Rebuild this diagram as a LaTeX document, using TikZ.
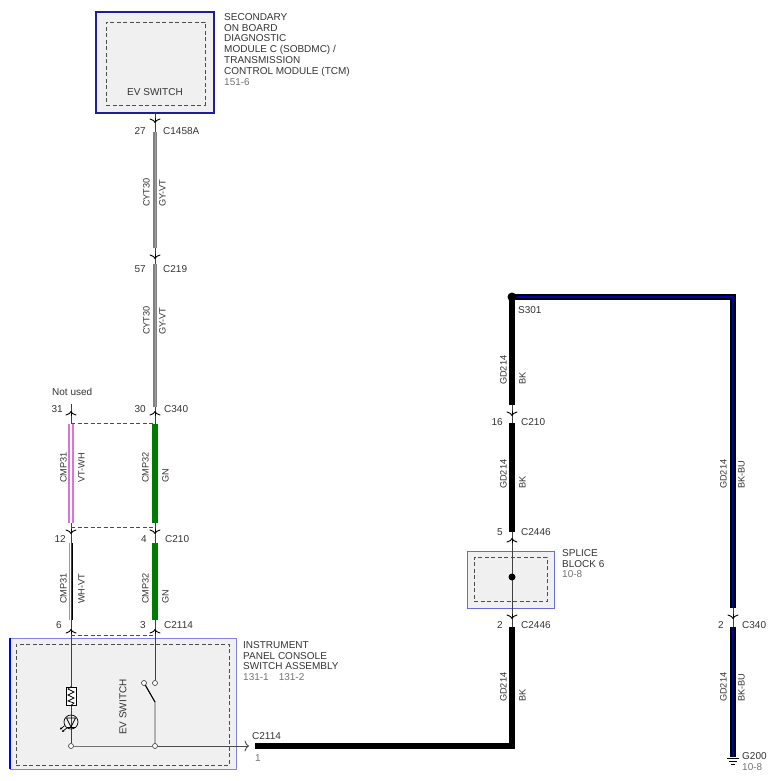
\documentclass[tikz,border=0pt]{standalone}
\usepackage{fontspec}
\setmainfont{Liberation Sans}
\usetikzlibrary{arrows.meta}
\definecolor{azulosc}{RGB}{30,30,150}
\definecolor{azulclaro}{RGB}{130,130,225}
\definecolor{azulbloque}{RGB}{105,105,215}
\definecolor{fondo}{RGB}{240,240,240}
\definecolor{verde}{RGB}{0,125,0}
\definecolor{violeta}{RGB}{220,115,220}
\begin{document}
\begin{tikzpicture}[x=1pt,y=-1pt,
  txt/.style={font=\fontsize{10}{10.9}\selectfont, text=black!80, inner sep=0pt},
  ref/.style={txt, text=black!55},
  rotI/.style={txt, font=\fontsize{9.2}{10}\selectfont, rotate=90, anchor=south west},
  rotD/.style={txt, font=\fontsize{9.2}{10}\selectfont, rotate=90, anchor=north west},
  marco/.style={draw=black!70, line width=0.7pt, dash pattern=on 4pt off 2.5pt, inner sep=0pt},
  hilo/.style={draw=black!75, line width=0.7pt},
  cnx/.style={draw=black, line width=0.9pt, -{To[length=4.5pt,width=11pt]}},
  gyvt/.style={draw=black!50, double=violeta, line width=1.6pt, double distance=1pt},
  vtwh/.style={draw=violeta, double=white, line width=1.9pt, double distance=1.3pt},
  gn/.style={draw=verde, line width=5.5pt},
  bk/.style={draw=black, line width=5.5pt},
  bkbu/.style={draw=black, double=blue!70!black, line width=2.3pt, double distance=1.2pt},
  punto/.style={circle, draw=black!80, fill=white, inner sep=0pt, minimum size=5pt, line width=0.6pt}
]
\useasboundingbox (0,0) rectangle (779,781);

% Modulos y bloque de empalme
\node[fill=fondo, draw=azulosc, line width=1.3pt, minimum width=118pt, minimum height=101pt] (sobdmc) at (155,62.5) {};
\node[marco, minimum width=99pt, minimum height=83pt] (sobdmcin) at (155.5,63.5) {};
\node[fill=fondo, draw=azulclaro, line width=0.8pt, minimum width=226pt, minimum height=131pt] (ipc) at (123,703.5) {};
\draw[blue, line width=2pt] (ipc.north west) -- (ipc.south west);
\node[marco, minimum width=213pt, minimum height=121pt] (ipcin) at (122.5,704.5) {};
\node[fill=fondo, draw=azulbloque, line width=0.8pt, minimum width=87pt, minimum height=57pt] (sb6) at (510.5,579.5) {};
\node[marco, minimum width=73pt, minimum height=44pt] (sb6in) at (510.5,579) {};

% Puntos de la columna izquierda
\coordinate (m1) at (155,113);
\coordinate (c1458a) at (155,123);
\coordinate (w1a) at (155,132); \coordinate (w1b) at (155,248);
\coordinate (c219) at (155,259);
\coordinate (w2a) at (155,264); \coordinate (w2b) at (155,407);
\coordinate (c340) at (155,411);
\coordinate (w3a) at (155,424); \coordinate (w3b) at (155,523);
\coordinate (c210) at (155,534);
\coordinate (w4a) at (155,543); \coordinate (w4b) at (155,620);
\coordinate (c2114) at (155,629);
\coordinate (t31) at (71,404);
\coordinate (c340b) at (71,411);
\coordinate (v1a) at (71,424); \coordinate (v1b) at (71,523);
\coordinate (c210b) at (71,534);
\coordinate (v2a) at (71,543); \coordinate (v2b) at (71,620);
\coordinate (c2114c) at (71,629);

% Puntos de la derecha
\coordinate (g1b) at (512,405);
\coordinate (c210r) at (512,416);
\coordinate (g2a) at (512,423); \coordinate (g2b) at (512,532);
\coordinate (c2446a) at (512,538);
\coordinate (c2446b) at (512,619);
\coordinate (g3a) at (512,627);
\coordinate (esq) at (512,746);
\coordinate (g3b) at (255,746);
\coordinate (c2114r) at (249,746);
\coordinate (esqD) at (733,297);
\coordinate (h1b) at (733,608);
\coordinate (c340r) at (733,619);
\coordinate (h2a) at (733,627);
\coordinate (gnd) at (733,757);

% Hilos finos de fondo
\node[punto] (sw1) at (155,683) {};
\node[punto] (sw2) at (144,683) {};
\node[punto] (nA) at (71,746) {};
\node[punto] (nB) at (155,746) {};
\draw[hilo] (m1) -- (sw1);
\draw[hilo] (t31) -- (nA);
\draw[hilo] (sw2) ++(1.5,2) -- (155,702) -- (nB);
\draw[hilo, draw=black!55] (nA) -- (nB);
\draw[cnx, draw=black!70] (nB) -- (c2114r);
\draw[hilo] (512,297) -- (g3a);
\draw[hilo] (h1b) -- (gnd);

% Carcasas de conectores
\draw[marco] (71,423) -- (155,423);
\draw[marco] (71,527) -- (155,527);
\draw[marco] (71,635) -- (155,635);

% Cables
\draw[gyvt] (w1a) -- (w1b);
\draw[gyvt] (w2a) -- (w2b);
\draw[gn] (w3a) -- (w3b);
\draw[gn] (w4a) -- (w4b);
\draw[vtwh] (v1a) -- (v1b);
\draw[hilo, draw=violeta] ([xshift=-2pt]v2a) -- ([xshift=-2pt]v2b);
\draw[hilo, draw=black] ([xshift=1pt]v2a) -- ([xshift=1pt]v2b);
\draw[bk] (512,297) -- (g1b);
\draw[bk] (g2a) -- (g2b);
\draw[bk, line join=miter] (g3a) -- (esq) -- (g3b);
\draw[bkbu, line join=miter] (512,297) -- (esqD) -- (h1b);
\draw[bkbu] (h2a) -- (gnd);

% Simbolos de conector
\foreach \c in {c1458a,c219,c210,c210b,c210r,c2446b,c340r}
  \draw[cnx] (\c) ++(0,-5) -- (\c);
\foreach \c in {c340,c340b,c2114,c2114c,c2446a}
  \draw[cnx] (\c) ++(0,5) -- (\c);

% Empalmes y masa
\node[circle, fill=black, inner sep=0pt, minimum size=9pt] (s301) at (512,297) {};
\node[circle, fill=black, inner sep=0pt, minimum size=7pt] (spl) at (512,577) {};
\draw[hilo, draw=black] (gnd) ++(-6,1.5) -- ++(12,0);
\draw[hilo, draw=black] (gnd) ++(-4,4.5) -- ++(8,0);
\draw[hilo, draw=black] (gnd) ++(-2,7.5) -- ++(4,0);

% Interruptor, resistencia y LED
\draw[hilo, draw=black, line width=1pt] (sw2) -- (155,702);
\node[draw=black, fill=white, line width=0.7pt, minimum width=10pt, minimum height=18pt, inner sep=0pt] (res) at (71,696) {};
\draw[hilo, draw=black] (res.north) -- (68,689) -- (74,692) -- (68,695) -- (74,698) -- (68,701) -- (74,703) -- (res.south);
\node[circle, draw=black, line width=0.7pt, minimum size=14pt, inner sep=0pt] (led) at (71,722) {};
\draw[hilo, draw=black] (66.5,718) -- (75.5,718) -- (71,727) -- cycle;
\draw[hilo, draw=black] (66.5,727) -- (75.5,727);
\draw[hilo, draw=black, -{Latex[length=2.5pt,width=2.5pt]}] (led.210) -- ++(-5,4);
\draw[hilo, draw=black, -{Latex[length=2.5pt,width=2.5pt]}] (led.235) -- ++(-5,4);

% Textos de los modulos
\node[txt] (evs1) at (155,92) {EV SWITCH};
\node[txt, anchor=north west, align=left] (tcm) at (224,13) {SECONDARY\\ON BOARD\\DIAGNOSTIC\\MODULE C (SOBDMC) /\\TRANSMISSION\\CONTROL MODULE (TCM)\\\textcolor{black!55}{151-6}};
\node[txt, anchor=north west, align=left] (ipctxt) at (243,641) {INSTRUMENT\\PANEL CONSOLE\\SWITCH ASSEMBLY\\\textcolor{black!55}{131-1\quad 131-2}};
\node[txt, anchor=north west, align=left] (sbtxt) at (562,549) {SPLICE\\BLOCK 6\\\textcolor{black!55}{10-8}};
\node[txt, rotate=90] (evs2) at (123,707) {EV SWITCH};

% Numeros de pin y conectores
\node[txt, anchor=east] (p27) at (146,131) {27};
\node[txt, anchor=west] (l1458a) at (163,131) {C1458A};
\node[txt, anchor=east] (p57) at (146,269) {57};
\node[txt, anchor=west] (l219) at (163,269) {C219};
\node[txt, anchor=west] (nu) at (52,392) {Not used};
\node[txt, anchor=east] (p31) at (63,409) {31};
\node[txt, anchor=east] (p30) at (146,409) {30};
\node[txt, anchor=west] (l340) at (164,409) {C340};
\node[txt, anchor=east] (p12) at (66,539) {12};
\node[txt, anchor=east] (p4) at (147,539) {4};
\node[txt, anchor=west] (l210) at (165,539) {C210};
\node[txt, anchor=east] (p6) at (62,625) {6};
\node[txt, anchor=east] (p3) at (146,625) {3};
\node[txt, anchor=west] (l2114) at (164,625) {C2114};
\node[txt, anchor=west] (l2114r) at (252,736) {C2114};
\node[ref, anchor=west] (p1) at (255,758) {1};
\node[txt, anchor=west] (ls301) at (518,310) {S301};
\node[txt, anchor=east] (p16) at (503,422) {16};
\node[txt, anchor=west] (l210r) at (521,422) {C210};
\node[txt, anchor=east] (p5) at (503,532) {5};
\node[txt, anchor=west] (l2446a) at (521,532) {C2446};
\node[txt, anchor=east] (p2a) at (503,625) {2};
\node[txt, anchor=west] (l2446b) at (521,625) {C2446};
\node[txt, anchor=east] (p2b) at (724,625) {2};
\node[txt, anchor=west] (l340r) at (742,625) {C340};
\node[txt, anchor=west] (lg200) at (742,756) {G200};
\node[ref, anchor=west] (lg108) at (742,767) {10-8};

% Etiquetas de circuito y color
\node[rotI] (k1) at (150,207) {CYT30};
\node[rotD] (k2) at (159,207) {GY-VT};
\node[rotI] (k3) at (150,335) {CYT30};
\node[rotD] (k4) at (159,335) {GY-VT};
\node[rotI] (k5) at (67,483) {CMP31};
\node[rotD] (k6) at (78,483) {VT-WH};
\node[rotI] (k7) at (149,483) {CMP32};
\node[rotD] (k8) at (162,483) {GN};
\node[rotI] (k9) at (67,604) {CMP31};
\node[rotD] (k10) at (78,604) {WH-VT};
\node[rotI] (k11) at (149,604) {CMP32};
\node[rotD] (k12) at (162,604) {GN};
\node[rotI] (k13) at (507,385) {GD214};
\node[rotD] (k14) at (519,385) {BK};
\node[rotI] (k15) at (507,489) {GD214};
\node[rotD] (k16) at (519,489) {BK};
\node[rotI] (k17) at (507,702) {GD214};
\node[rotD] (k18) at (519,702) {BK};
\node[rotI] (k19) at (727,489) {GD214};
\node[rotD] (k20) at (738,489) {BK-BU};
\node[rotI] (k21) at (727,702) {GD214};
\node[rotD] (k22) at (738,702) {BK-BU};
\end{tikzpicture}
\end{document}
